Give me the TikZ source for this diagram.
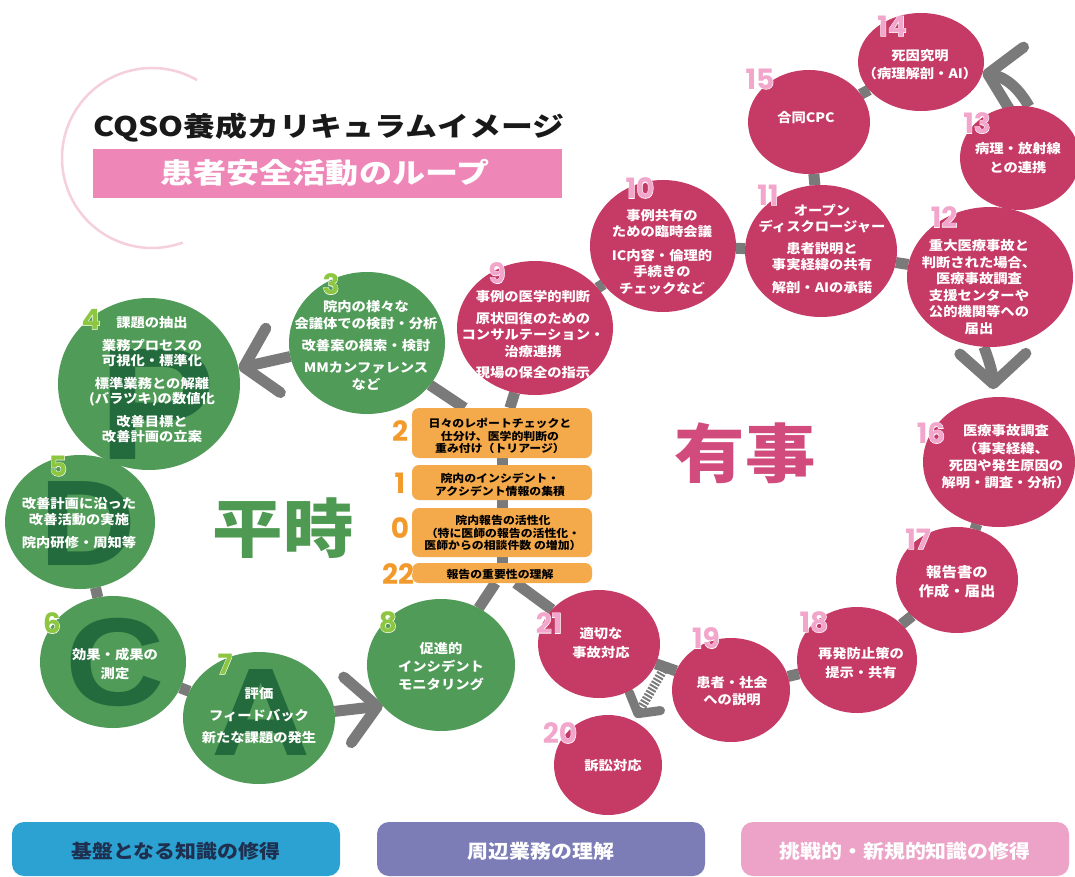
\documentclass[tikz,border=0pt]{standalone}
\usepackage{fontspec}
\setmainfont{Noto Sans CJK JP}[FakeStretch=1.1]
\newfontfamily\titlefont{Noto Sans CJK JP}[FakeStretch=1.18]
\newfontfamily\numfont{Poppins}
\newfontfamily\numfontw{Poppins}[FakeBold=3,BoldFeatures={FakeBold=3}]
\newfontfamily\letterfont{Liberation Sans}[FakeStretch=1.1]
\usetikzlibrary{shapes.geometric,arrows.meta,calc,backgrounds}
\definecolor{grn}{HTML}{4F9B57}
\definecolor{dgrn}{HTML}{236B3D}
\definecolor{lgrn}{HTML}{8DC641}
\definecolor{crd}{HTML}{C63B66}
\definecolor{lpink}{HTML}{F2A6CB}
\definecolor{orng}{HTML}{F4A94B}
\definecolor{onumc}{HTML}{F39A2C}
\definecolor{conncol}{HTML}{7A7A7A}
\definecolor{titlepink}{HTML}{EE87B8}
\definecolor{ringpink}{HTML}{F6CFDD}
\definecolor{yujic}{HTML}{D14C7C}
\definecolor{heijic}{HTML}{4E9A52}
\definecolor{barone}{HTML}{2BA2D1}
\definecolor{bartwo}{HTML}{7C7DB6}
\definecolor{barthree}{HTML}{ECA3C7}
\definecolor{navyc}{HTML}{1F2F4F}
\tikzset{
 gc/.style={ellipse, fill=grn, inner sep=0pt, outer sep=0pt},
 rc/.style={ellipse, fill=crd, inner sep=0pt, outer sep=0pt},
 ctext/.style={text=white, align=center, inner sep=0pt, font=\bfseries\fontsize{13}{17}\selectfont},
 btext/.style={text=black, align=center, inner sep=0pt, font=\bfseries\fontsize{10.8}{12.5}\selectfont},
 obox/.style={fill=orng, rounded corners=7pt, minimum width=180pt, inner sep=0pt, outer sep=0pt},
 conn/.style={draw=conncol, line width=11pt},
 chev/.style={-{Straight Barb[length=30pt,width=66pt,round]}},
 bigl/.style={text=dgrn, inner sep=0pt, font=\letterfont\bfseries\fontsize{#1}{#1}\selectfont},
 numc/.style={inner sep=0pt, text=#1, font=\numfont\bfseries\fontsize{28}{28}\selectfont},
 numw/.style={inner sep=0pt, text=white, font=\numfontw\bfseries\fontsize{28}{28}\selectfont},
 bar/.style={rounded corners=12pt, minimum width=328pt, minimum height=54pt, inner sep=0pt},
 bartext/.style={inner sep=0pt, font=\bfseries\fontsize{19}{19}\selectfont},
}
\newcommand{\numlab}[4]{%
 \node[numw] (#1w) at (#2) {#4};
 \node[numc=#3] (#1) at (#2) {#4};}
\begin{document}
\begin{tikzpicture}[x=1pt,y=-1pt]
\useasboundingbox (0,0) rectangle (1075,877);
% ring behind title
\draw[ringpink, line width=2.5pt] (152,158) ++(-60:90) arc[start angle=-60, end angle=-290, radius=90];
% title
\node[anchor=west, inner sep=0pt, font=\titlefont\bfseries\fontsize{27}{27}\selectfont, text=black!90] (title) at (93,128) {CQSO養成カリキュラムイメージ};
\node[fill=titlepink, minimum width=469pt, minimum height=49pt, inner sep=0pt] (tbar) at (327.5,173.5) {};
\node[inner sep=0pt, text=white, font=\titlefont\bfseries\fontsize{28}{28}\selectfont] (subtitle) at (325,173) {患者安全活動のループ};
% bottom bars
\node[bar, fill=barone] (bar1) at (176,849) {};
\node[bartext, text=navyc] (bar1t) at (176,851) {基盤となる知識の修得};
\node[bar, fill=bartwo] (bar2) at (541,849) {};
\node[bartext, text=white] (bar2t) at (541,851) {周辺業務の理解};
\node[bar, fill=barthree] (bar3) at (905,849) {};
\node[bartext, text=white] (bar3t) at (905,851) {挑戦的・新規的知識の修得};
% big words
\node[inner sep=0pt, text=heijic, font=\bfseries\fontsize{64}{64}\selectfont] (heiji) at (283,528) {平時};
\node[inner sep=0pt, text=yujic, font=\bfseries\fontsize{64}{64}\selectfont] (yuji) at (745,453) {有事};
% green circles
\node[gc, minimum width=156pt, minimum height=142pt] (c3) at (367,343) {};
\node[gc, minimum width=182pt, minimum height=172pt] (c4) at (149,384) {};
\node[gc, minimum width=150pt, minimum height=134pt] (c5) at (80,522) {};
\node[gc, minimum width=146pt, minimum height=132pt] (c6) at (113,662) {};
\node[gc, minimum width=152pt, minimum height=132pt] (c7) at (259,718) {};
\node[gc, minimum width=148pt, minimum height=132pt] (c8) at (441,665) {};
% PDCA letters
\node[bigl=160] (lP) at (157,404) {P};
\node[bigl=122] (lD) at (88,524) {D};
\node[bigl=125] (lC) at (115,662) {C};
\node[bigl=125] (lA) at (261,712) {A};
% red circles
\node[rc, minimum width=156pt, minimum height=134pt] (c9) at (535,328) {};
\node[rc, minimum width=146pt, minimum height=132pt] (c10) at (663,246) {};
\node[rc, minimum width=152pt, minimum height=132pt] (c11) at (821,251) {};
\node[rc, minimum width=122pt, minimum height=104pt] (c15) at (809,122) {};
\node[rc, minimum width=126pt, minimum height=98pt] (c14) at (921,62) {};
\node[rc, minimum width=120pt, minimum height=104pt] (c13) at (1020,158) {};
\node[rc, minimum width=166pt, minimum height=140pt] (c12) at (990,277) {};
\node[rc, minimum width=152pt, minimum height=130pt] (c16) at (999,462) {};
\node[rc, minimum width=122pt, minimum height=106pt] (c17) at (957,580) {};
\node[rc, minimum width=120pt, minimum height=106pt] (c18) at (857,660) {};
\node[rc, minimum width=118pt, minimum height=104pt] (c19) at (731,690) {};
\node[rc, minimum width=122pt, minimum height=108pt] (c21) at (599,644) {};
\node[rc, minimum width=108pt, minimum height=100pt] (c20) at (608,765) {};
% orange boxes
\node[obox, minimum height=50pt] (b2) at (502,433) {};
\node[obox, minimum height=35pt] (b1) at (502,482.5) {};
\node[obox, minimum height=49pt] (b0) at (502,532.5) {};
\node[obox, minimum height=20pt] (b22) at (502,573) {};
% texts in green circles
\node[ctext] (t3) at (366,345) {院内の様々な\\会議体での検討・分析\\[5pt]改善案の模索・検討\\[5pt]MMカンファレンス\\など};
\node[ctext, font=\bfseries\fontsize{13}{15}\selectfont] (t4) at (152,380) {課題の抽出\\[8pt]業務プロセスの\\可視化・標準化\\[8pt]標準業務との解離\\(バラツキ)の数値化\\[8pt]改善目標と\\改善計画の立案};
\node[ctext, font=\bfseries\fontsize{13}{16}\selectfont] (t5) at (79,523) {改善計画に沿った\\改善活動の実施\\[7pt]院内研修・周知等};
\node[ctext, font=\bfseries\fontsize{13}{19}\selectfont] (t6) at (115,664) {効果・成果の\\測定};
\node[ctext, font=\bfseries\fontsize{13}{22}\selectfont] (t7) at (259,716) {評価\\フィードバック\\新たな課題の発生};
\node[ctext, font=\bfseries\fontsize{13}{18}\selectfont] (t8) at (441,667) {促進的\\インシデント\\モニタリング};
% texts in red circles
\node[ctext, font=\bfseries\fontsize{13}{16.5}\selectfont] (t9) at (533,335) {事例の医学的判断\\[5pt]原状回復のための\\コンサルテーション・\\治療連携\\[5pt]現場の保全の指示};
\node[ctext, font=\bfseries\fontsize{13}{16.5}\selectfont] (t10) at (662,252) {事例共有の\\ための臨時会議\\[7pt]IC内容・倫理的\\手続きの\\チェックなど};
\node[ctext, font=\bfseries\fontsize{13}{16}\selectfont] (t11) at (822,249) {オープン\\ディスクロージャー\\[6pt]患者説明と\\事実経緯の共有\\[7pt]解剖・AIの承諾};
\node[ctext] (t15) at (806,118) {合同CPC};
\node[ctext, font=\bfseries\fontsize{13}{18}\selectfont] (t14) at (920,65) {死因究明\\（病理解剖・AI）};
\node[ctext, font=\bfseries\fontsize{13}{19}\selectfont] (t13) at (1018,158) {病理・放射線\\との連携};
\node[ctext, font=\bfseries\fontsize{13}{16.6}\selectfont] (t12) at (979,287) {重大医療事故と\\判断された場合、\\医療事故調査\\支援センターや\\公的機関等への\\届出};
\node[ctext, font=\bfseries\fontsize{13}{17.3}\selectfont] (t16) at (1006,457) {医療事故調査\\（事実経緯、\\死因や発生原因の\\解明・調査・分析）};
\node[ctext, font=\bfseries\fontsize{14}{19}\selectfont] (t17) at (957,582) {報告書の\\作成・届出};
\node[ctext, font=\bfseries\fontsize{13}{19}\selectfont] (t18) at (861,663) {再発防止策の\\提示・共有};
\node[ctext, font=\bfseries\fontsize{13}{17}\selectfont] (t19) at (732,691) {患者・社会\\への説明};
\node[ctext, font=\bfseries\fontsize{13}{19}\selectfont] (t21) at (601,643) {適切な\\事故対応};
\node[ctext] (t20) at (613,766) {訴訟対応};
% texts in boxes
\node[btext] (tb2) at (500,436) {日々のレポートチェックと\\仕分け、医学的判断の\\重み付け（トリアージ）};
\node[btext] (tb1) at (500,485) {院内のインシデント・\\アクシデント情報の集積};
\node[btext] (tb0) at (503,533) {院内報告の活性化\\（特に医師の報告の活性化・\\医師からの相談件数 の増加）};
\node[btext] (tb22) at (500,574) {報告の重要性の理解};
% numbers
\numlab{n3}{331,284}{lgrn}{3}
\numlab{n4}{91,319}{lgrn}{4}
\numlab{n5}{58,466}{lgrn}{5}
\numlab{n6}{52,623}{lgrn}{6}
\numlab{n7}{225,664}{lgrn}{7}
\numlab{n8}{388,622}{lgrn}{8}
\numlab{n9}{497,273}{lpink}{9}
\numlab{n10}{640,188}{lpink}{10}
\numlab{n11}{768,195}{lpink}{11}
\numlab{n15}{760,79}{lpink}{15}
\numlab{n14}{892,26}{lpink}{14}
\numlab{n13}{977,123}{lpink}{13}
\numlab{n12}{944,217}{lpink}{12}
\numlab{n16}{931,433}{lpink}{16}
\numlab{n17}{918,539}{lpink}{17}
\numlab{n18}{814,622}{lpink}{18}
\numlab{n19}{706,638}{lpink}{19}
\numlab{n21}{549,623}{lpink}{21}
\numlab{n20}{560,733}{lpink}{20}
\numlab{o2}{400,431}{onumc}{2}
\numlab{o1}{400,483}{onumc}{1}
\numlab{o0}{400,528}{onumc}{0}
\numlab{o22}{398,574}{onumc}{22}
% connectors on background
\begin{scope}[on background layer]
\fill[white] (0,0) rectangle (1075,877);
\draw[conn] (c4) -- (c5);
\draw[conn] (c5) -- (c6);
\draw[conn] (c6) -- (c7);
\draw[conn,chev] (c3.190) -- (c4.10);
\draw[conn,chev] (c7.5) -- (c8.215);
\draw[conn] (b2) -- (c3);
\draw[conn] (b2) -- (c9);
\draw[conn] (b2) -- (b1);
\draw[conn] (b1) -- (b0);
\draw[conn] (b0) -- (b22);
\draw[conn] (b22) -- (c8);
\draw[conn] (b22) -- (c21);
\draw[conn] (c9) -- (c10);
\draw[conn] (c10) -- (c11);
\draw[conn] (c11) -- (c15);
\draw[conn] (c15) -- (c14);
\draw[conn] (c11) -- (c12);
\draw[conn] (c12) -- (c13);
\draw[conn,chev] (c13.80) to[bend right=25] (c14.350);
\draw[conn,chev,shorten >=8pt] (c12.265) to[bend left=10] (c16.95);
\draw[conn] (c16) -- (c17);
\draw[conn] (c17) -- (c18);
\draw[conn] (c18) -- (c19);
\draw[conn] (c19) -- (c21);
\coordinate (m1921) at ($(c21)!0.5!(c19)$);
\draw[conncol, line width=9pt, dash pattern=on 2pt off 1.6pt, -{Straight Barb[length=14pt,width=36pt,round]}, shorten >=4pt] (m1921) -- (c20);
\end{scope}
\end{tikzpicture}
\end{document}
